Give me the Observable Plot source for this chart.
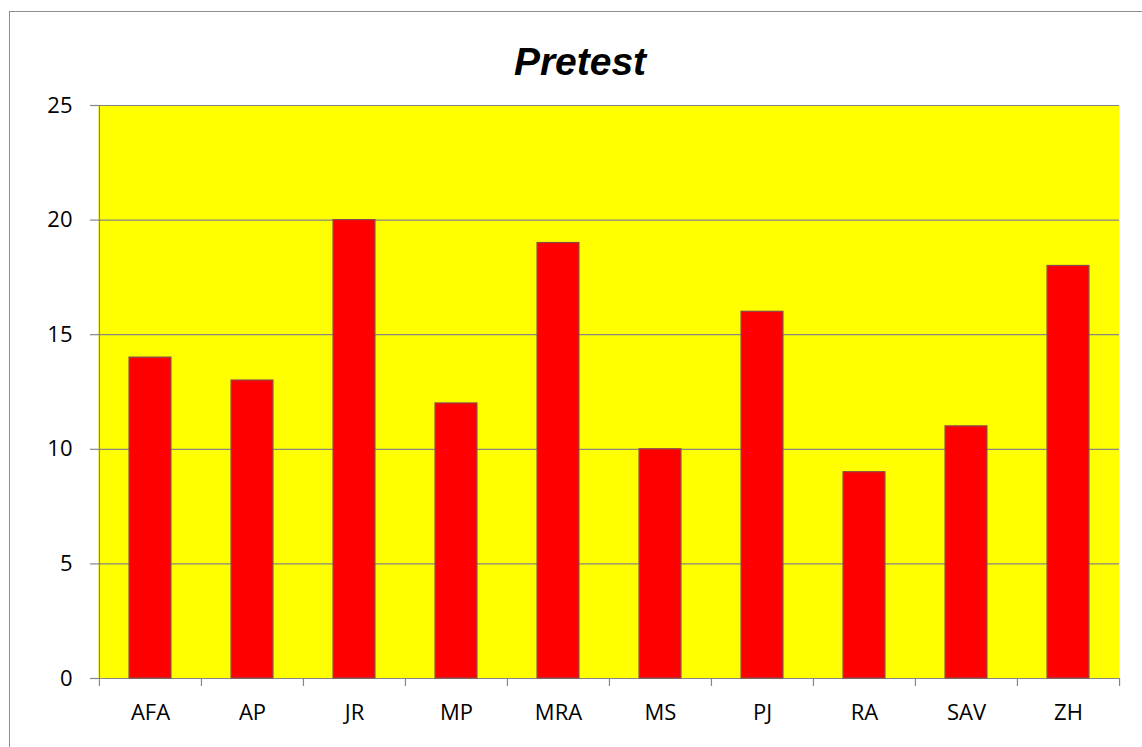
<!DOCTYPE html>
<html>
<head>
<meta charset="utf-8">
<script src="https://cdn.jsdelivr.net/npm/d3@7"></script>
<script src="https://cdn.jsdelivr.net/npm/@observablehq/plot@0.6"></script>
<style>
  html, body { margin: 0; padding: 0; background: #fff; overflow: hidden; }
  #wrap { position: relative; width: 1142px; height: 747px; overflow: hidden; }
  #border { position: absolute; left: 9px; top: 11px; width: 1200px; height: 800px; border: 1.5px solid #8f8f8f; box-sizing: border-box; }
  #title { position: absolute; left: 0; top: 42px; width: 1160px; text-align: center;
    font-family: "Liberation Sans", Arial, sans-serif; font-weight: bold; font-style: italic;
    font-size: 39px; line-height: 39px; color: #000; }
  #chart { position: absolute; left: 0; top: 0; }
</style>
</head>
<body>
<div id="wrap">
  <div id="border"></div>
  <div id="chart"></div>
  <div id="title">Pretest</div>
</div>
<script>
const categories = ["AFA", "AP", "JR", "MP", "MRA", "MS", "PJ", "RA", "SAV", "ZH"];
const values = [14, 13, 20, 12, 19, 10, 16, 9, 11, 18];
const yTicks = [0, 5, 10, 15, 20, 25];

const data = categories.map((c, i) => ({name: c, value: values[i]}));

const W = 1142, H = 747;
const mL = 98, mR = 23, mT = 105, mB = 69;
const step = (W - mL - mR) / categories.length;
const barInset = (step - 42) / 2;
const gray = "#868686";

const chart = Plot.plot({
  width: W,
  height: H,
  marginLeft: mL,
  marginRight: mR,
  marginTop: mT,
  marginBottom: mB,
  style: {fontFamily: "'Open Sans', 'Liberation Sans', Arial, sans-serif", fontSize: "22px", color: "#000", background: "transparent", overflow: "visible"},
  x: {domain: categories, padding: 0},
  y: {domain: [0, 25]},
  marks: [
    Plot.frame({fill: "#ffff00", stroke: "none"}),
    Plot.ruleY(yTicks, {stroke: gray, strokeWidth: 1.2}),
    Plot.barY(data, {x: "name", y: "value", fill: "#ff0000", stroke: "#8a4a4a", strokeWidth: 1.2, insetLeft: barInset, insetRight: barInset}),
    Plot.axisY({ticks: yTicks, tickSize: 8, tickPadding: 18, stroke: gray, strokeWidth: 1.2, label: null}),
    Plot.axisX({tickSize: 0, tickPadding: 26, label: null}),
    Plot.ruleX(categories.slice(1), {x: d => d, dx: -step / 2, y1: 0, y2: 0, insetBottom: -8, stroke: gray, strokeWidth: 1.2}),
    Plot.ruleX([categories[categories.length - 1]], {x: d => d, dx: step / 2, y1: 0, y2: 0, insetBottom: -8, stroke: gray, strokeWidth: 1.2}),
    Plot.ruleX([categories[0]], {x: d => d, dx: -step / 2, y1: 25, y2: 0, insetBottom: -8, stroke: gray, strokeWidth: 1.2})
  ]
});
document.getElementById("chart").appendChild(chart);
</script>
</body>
</html>
